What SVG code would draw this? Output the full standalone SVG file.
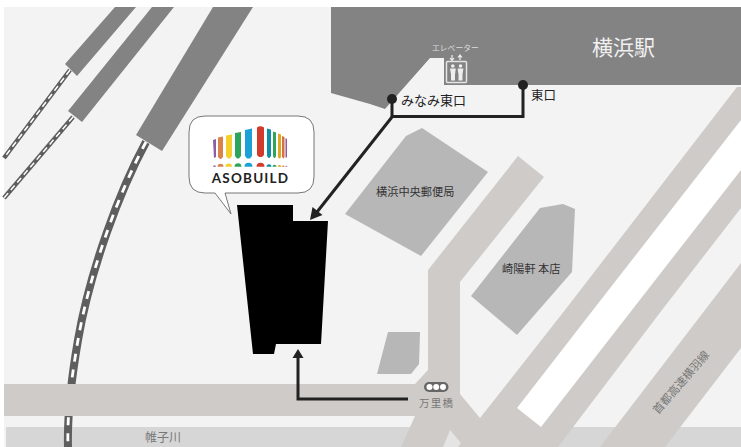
<svg xmlns="http://www.w3.org/2000/svg" width="741" height="447" viewBox="0 0 741 447">
<style>
.road{fill:#cfcbc8}.bldg{fill:#b8b7b8}.blk{fill:#838383}
.trk{fill:none;stroke:#5e5e5e}.dash{fill:none;stroke:#fff}
.route{fill:none;stroke:#222;stroke-width:3}
.dot{fill:#222}.head{fill:#222}
text{font-family:"Noto Sans CJK JP","Noto Sans",sans-serif}
.lb{font-size:11.200px;fill:#333}.gr{fill:#777}
</style>
<rect width="741" height="447" fill="#fff"/>
<rect x="4" y="7" width="737" height="440" fill="#f3f3f3"/>
<rect x="6" y="427" width="735" height="20" fill="#d6d6d6"/>
<g id="tracks">
<path class="trk" stroke-width="4.500" d="M70 70L4 158"/><path class="dash" stroke-width="1.500" stroke-dasharray="6 4" d="M70 70L4 158"/>
<path class="trk" stroke-width="4.500" d="M73 117L4 198"/><path class="dash" stroke-width="1.500" stroke-dasharray="6 4" d="M73 117L4 198"/>
<path class="trk" stroke-width="8" d="M146 142C120 190 90 270 78 340C72 375 67 410 68 447"/>
<path class="dash" stroke-width="2.800" stroke-dasharray="8 8" d="M146 142C120 190 90 270 78 340C72 375 67 410 68 447"/>
</g>
<g id="platforms">
<path class="blk" d="M115 7H136L77 76L65 64Z"/>
<path class="blk" d="M152 7H174L82 122L68 111Z"/>
<path class="blk" d="M213 7H253L162 151L136 135Z"/>
</g>
<path id="station" class="blk" d="M331 7H741V85H444V58H430L385 109L370 104L331 93Z"/>
<g id="roads">
<path class="road" d="M4 384H415L428 370V270L518 156L544 177L460 282V394L480 418L565 310L737 87H741V208L662 310L558 447H401L415 416H4Z"/>
<path class="road" d="M741 263V348L665 447H600Z"/>
<path d="M593 310L741 120V170L632 310L541 427L517 408Z" fill="#fff"/>
<path d="M450 430L461 443L458 447H443Z" fill="#e4e4e4"/>
</g>
<g id="post-office"><path class="bldg" d="M406 136L422 128L488 172L421 256L345 214Z"/><text class="lb" x="376" y="196">横浜中央郵便局</text></g>
<g id="kiyoken"><path class="bldg" d="M540 208L563 204L575 209L572 272L517 335L471 296Z"/><text class="lb" x="502" y="273">崎陽軒 本店</text></g>
<path id="small-building" class="bldg" d="M388 332H420L419 364L411 374H377Z"/>
<path id="asobuild-building" d="M237 205H293V221H328L321 344H276L274 354H253Z" fill="#000"/>
<g id="connectors">
<path class="route" d="M392 100V116.500H523V85"/>
<path class="route" d="M392 117L317 212"/>
<path class="head" d="M310 220L312.500 207L322.500 215Z"/>
<path class="route" d="M408 399H298V356"/>
<path class="head" d="M298 349L303.500 358H292.500Z"/>
<circle class="dot" cx="392" cy="99" r="5"/><circle class="dot" cx="523" cy="85" r="5"/>
</g>
<g id="bubble">
<path d="M205 116H298Q314 116 314 132V177Q314 193 298 193H225L231 214L215 193H205Q189 193 189 177V132Q189 116 205 116Z" fill="#fff" stroke="#777" stroke-width="1"/>
<g id="logo">
<path d="M213 140L216 139V157L214 158Z" fill="#8e5ba6"/>
<path d="M218 137.500L223 136.500V157L221 159H220L218 157Z" fill="#d9824a"/>
<path d="M226 135.500L232 134.500V156L230 158.500H228L226 156Z" fill="#f5cf2b"/>
<path d="M235 133L241 132V156L239 158.500H237L235 156Z" fill="#2fa35a"/>
<path d="M245 130L252 128.500V156L250 158.500H247L245 156Z" fill="#1ba1d8"/>
<path d="M257 127.500Q260 125 264 127.500V155L262 157H259L257 155Z" fill="#d23a2c"/>
<path d="M267 128.500L271 129.500V156L269.500 158H268.500L267 156Z" fill="#0f8ea8"/>
<path d="M273 131.500L276 132.500V156L275 158H274L273 156Z" fill="#2fa35a"/>
<path d="M278 133.500L281 134.500V157L280 158.500H279L278 157Z" fill="#dfa81f"/>
<path d="M282 136L284.500 137V157L283.500 158.500L282 157Z" fill="#d9703f"/>
<path d="M285.500 138L287 139V157L286 158L285.500 157Z" fill="#8e5ba6"/>
<path d="M213 166.800A1.500 1.500 0 0 1 216 166.800Z" fill="#8e5ba6"/>
<path d="M217.500 166.800A3 3 0 0 1 223.500 166.800Z" fill="#d9824a"/>
<path d="M225.500 166.800A3.200 3.200 0 0 1 232 166.800Z" fill="#f5cf2b"/>
<path d="M234.500 166.800A3.500 3.500 0 0 1 241.500 166.800Z" fill="#2fa35a"/>
<path d="M244.500 166.800A4 4 0 0 1 252.500 166.800Z" fill="#1ba1d8"/>
<path d="M256.500 166.800A4 4 0 0 1 264.500 166.800Z" fill="#d23a2c"/>
<path d="M266.500 166.800A2.500 2.500 0 0 1 271.500 166.800Z" fill="#0f8ea8"/>
<path d="M272.500 166.800A2 2 0 0 1 276.500 166.800Z" fill="#2fa35a"/>
<path d="M277.800 166.800A1.800 1.800 0 0 1 281.400 166.800Z" fill="#dfa81f"/>
<path d="M282 166.800A1.300 1.300 0 0 1 284.600 166.800Z" fill="#d9703f"/>
<path d="M285.400 166.800A1 1 0 0 1 287.400 166.800Z" fill="#8e5ba6"/>
<text x="250.500" y="183" text-anchor="middle" style="font-family:Lato,sans-serif;font-size:13.500px;font-weight:700;letter-spacing:1.200px" fill="#222">ASOBUILD</text>
</g></g>
<g id="labels">
<text x="592" y="55" style="font-size:21px" fill="#f0f0f0">横浜駅</text>
<text x="432" y="51" style="font-size:7.800px" fill="#ddd">エレベーター</text>
<text x="401" y="105" style="font-size:13px" fill="#222">みなみ東口</text>
<text x="531" y="100" style="font-size:12.500px" fill="#222">東口</text>
<text x="145" y="442" class="gr" style="font-size:12px">帷子川</text>
<text x="419" y="407" class="gr" style="font-size:10.500px;letter-spacing:1.200px">万里橋</text>
<text transform="translate(684 385) rotate(-49)" text-anchor="middle" class="gr" style="font-size:11.300px">首都高速横羽線</text>
</g>
<g id="elevator">
<rect x="446.500" y="61.500" width="20" height="21" rx="1" fill="none" stroke="#e4e4e4" stroke-width="1.500"/>
<path d="M452 55V60M450 58L452 60.500L454 58M460 60V55M458 57.500L460 55L462 57.500" fill="none" stroke="#eee" stroke-width="1.200"/>
<g fill="#eee"><circle cx="452.800" cy="66" r="1.800"/><path d="M450 68.500H455.800L455 74.500V80.500H451V74.500Z"/><circle cx="460.500" cy="66" r="1.800"/><path d="M457.600 68.500H463.400L462.500 74.500V80.500H458.500V74.500Z"/></g>
</g>
<g id="manri-bridge"><rect x="424" y="382" width="24.500" height="10" rx="5" fill="#666"/><circle cx="429.500" cy="387" r="3" fill="#fff"/><circle cx="436.200" cy="387" r="3" fill="#fff"/><circle cx="443" cy="387" r="3" fill="#fff"/></g>
</svg>
